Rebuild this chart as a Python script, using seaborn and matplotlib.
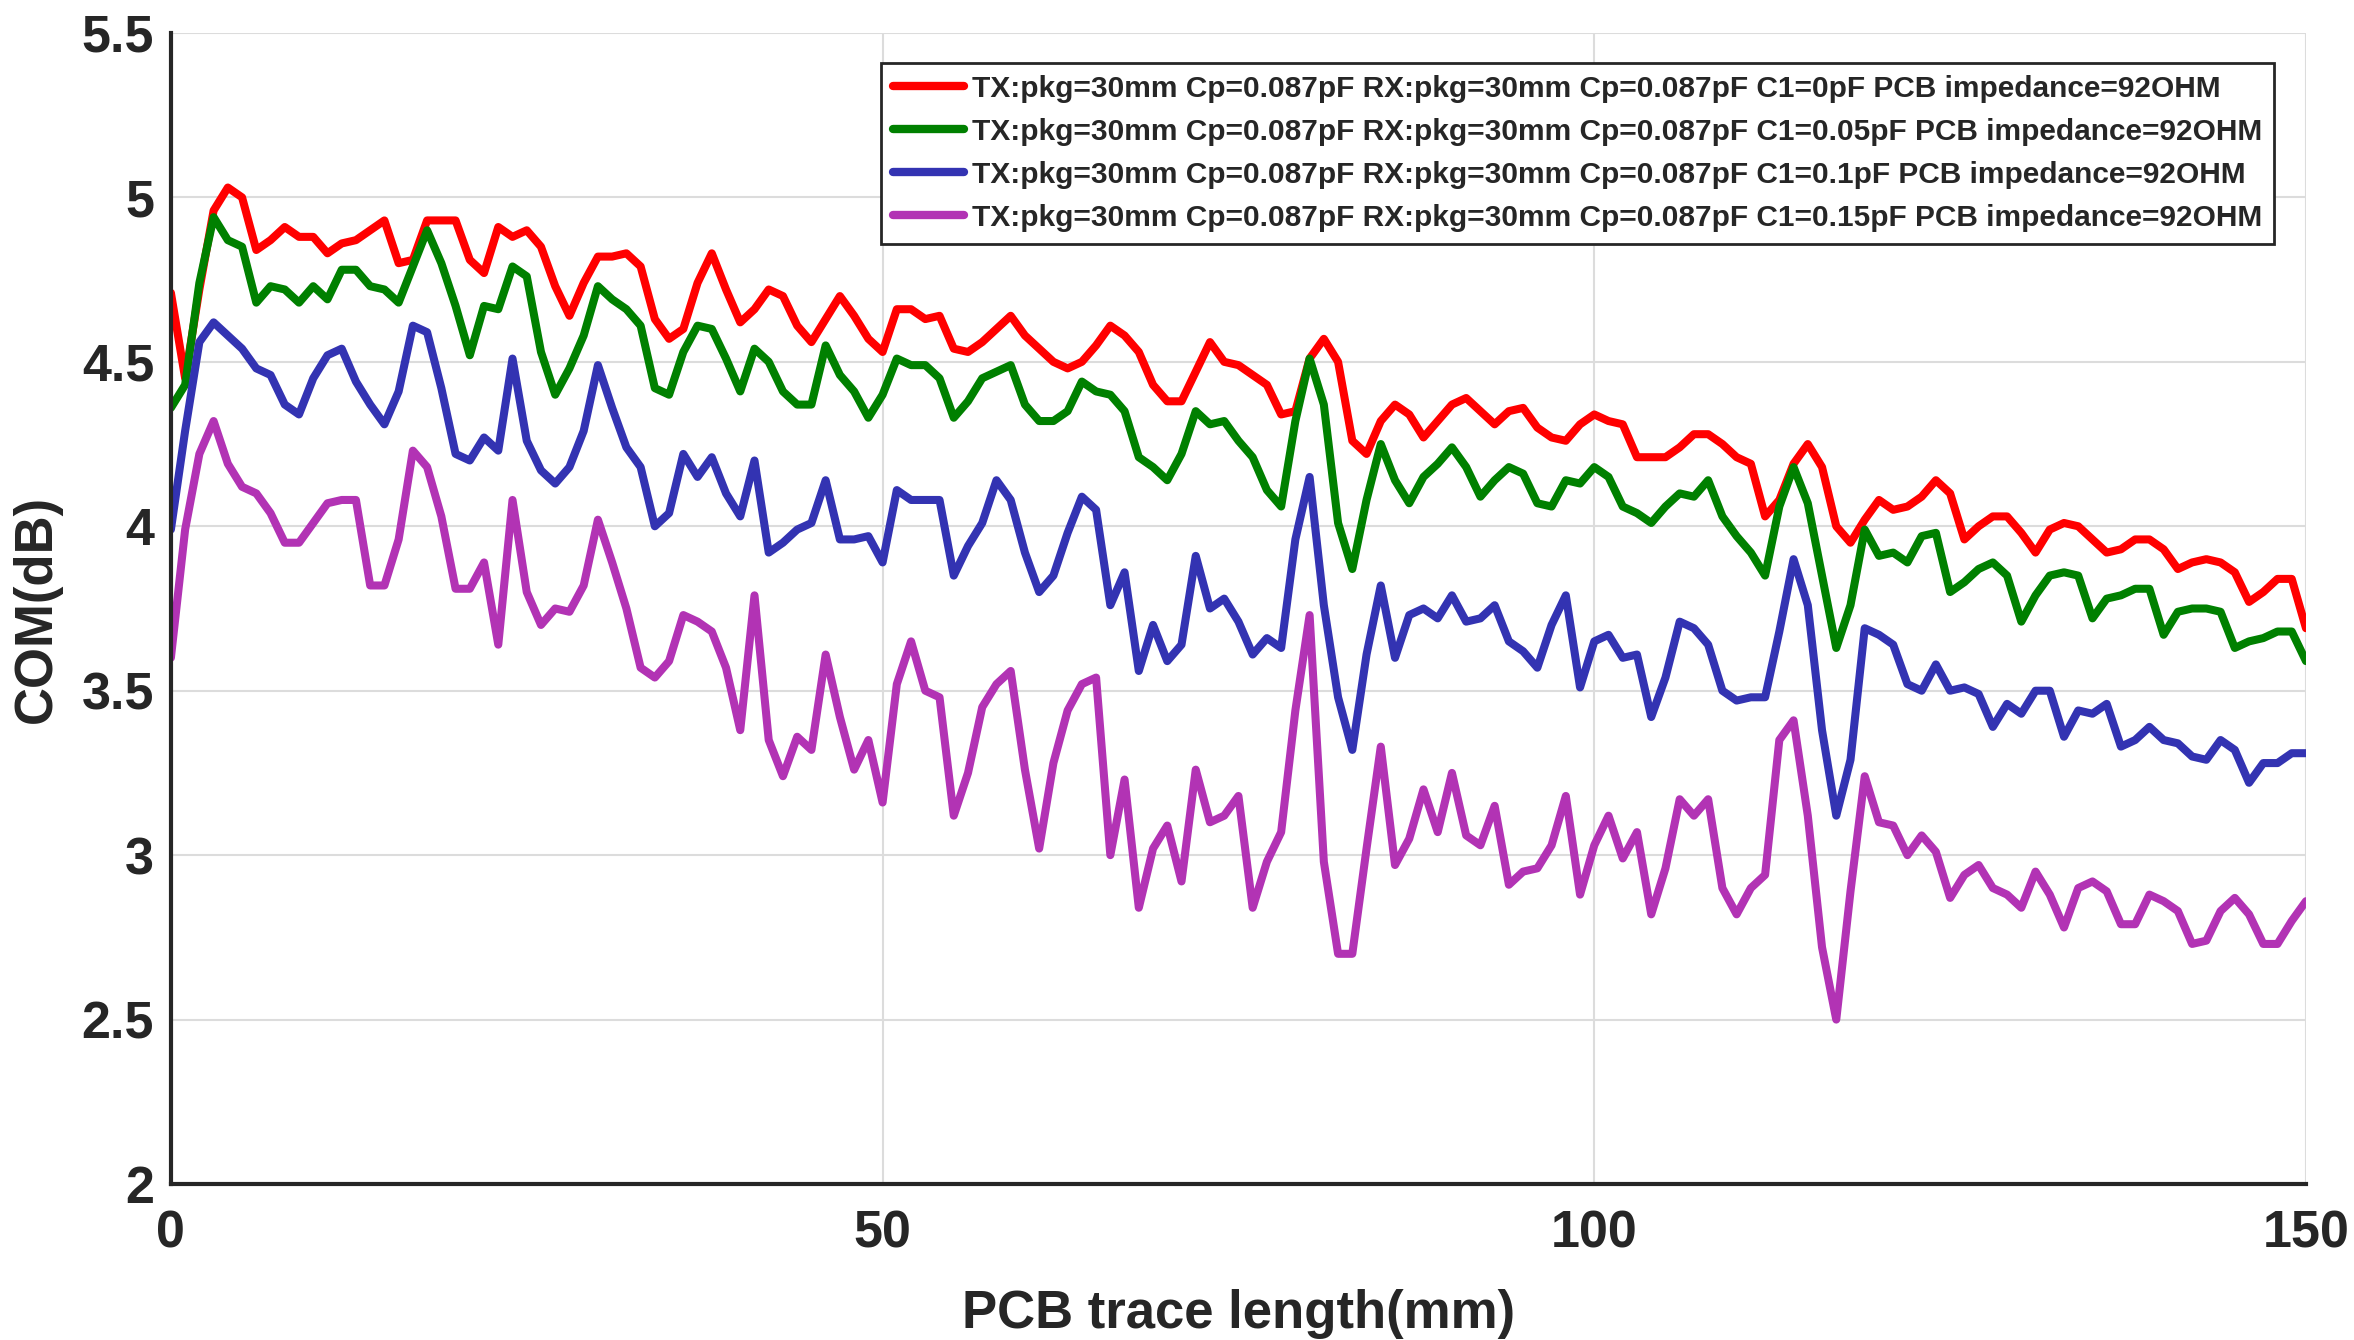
import numpy as np
import pandas as pd
import matplotlib
matplotlib.use("Agg")
import matplotlib.pyplot as plt
import seaborn as sns

# ---------------- data ----------------
trace_length_mm = list(range(0, 151))

com_c1_0 = [
    4.71, 4.45, 4.72, 4.96, 5.03, 5.00, 4.84, 4.87, 4.91, 4.88, 4.88, 4.83, 4.86, 4.87, 4.90, 4.93, 4.80, 4.81, 4.93, 4.93, 4.93, 4.81, 4.77, 4.91, 4.88, 4.90,
    4.85, 4.73, 4.64, 4.74, 4.82, 4.82, 4.83, 4.79, 4.63, 4.57, 4.60, 4.74, 4.83, 4.72, 4.62, 4.66, 4.72, 4.70, 4.61, 4.56, 4.63, 4.70, 4.64, 4.57, 4.53,
    4.66, 4.66, 4.63, 4.64, 4.54, 4.53, 4.56, 4.60, 4.64, 4.58, 4.54, 4.50, 4.48, 4.50, 4.55, 4.61, 4.58, 4.53, 4.43, 4.38, 4.38, 4.47, 4.56, 4.50, 4.49,
    4.46, 4.43, 4.34, 4.35, 4.51, 4.57, 4.50, 4.26, 4.22, 4.32, 4.37, 4.34, 4.27, 4.32, 4.37, 4.39, 4.35, 4.31, 4.35, 4.36, 4.30, 4.27, 4.26, 4.31, 4.34,
    4.32, 4.31, 4.21, 4.21, 4.21, 4.24, 4.28, 4.28, 4.25, 4.21, 4.19, 4.03, 4.08, 4.19, 4.25, 4.18, 4.00, 3.95, 4.02, 4.08, 4.05, 4.06, 4.09, 4.14, 4.10,
    3.96, 4.00, 4.03, 4.03, 3.98, 3.92, 3.99, 4.01, 4.00, 3.96, 3.92, 3.93, 3.96, 3.96, 3.93, 3.87, 3.89, 3.90, 3.89, 3.86, 3.77, 3.80, 3.84, 3.84, 3.69,
]

com_c1_005 = [
    4.36, 4.43, 4.74, 4.94, 4.87, 4.85, 4.68, 4.73, 4.72, 4.68, 4.73, 4.69, 4.78, 4.78, 4.73, 4.72, 4.68, 4.79, 4.90, 4.80, 4.67, 4.52, 4.67, 4.66, 4.79, 4.76,
    4.53, 4.40, 4.48, 4.58, 4.73, 4.69, 4.66, 4.61, 4.42, 4.40, 4.53, 4.61, 4.60, 4.51, 4.41, 4.54, 4.50, 4.41, 4.37, 4.37, 4.55, 4.46, 4.41, 4.33, 4.40,
    4.51, 4.49, 4.49, 4.45, 4.33, 4.38, 4.45, 4.47, 4.49, 4.37, 4.32, 4.32, 4.35, 4.44, 4.41, 4.40, 4.35, 4.21, 4.18, 4.14, 4.22, 4.35, 4.31, 4.32, 4.26,
    4.21, 4.11, 4.06, 4.32, 4.51, 4.37, 4.01, 3.87, 4.08, 4.25, 4.14, 4.07, 4.15, 4.19, 4.24, 4.18, 4.09, 4.14, 4.18, 4.16, 4.07, 4.06, 4.14, 4.13, 4.18,
    4.15, 4.06, 4.04, 4.01, 4.06, 4.10, 4.09, 4.14, 4.03, 3.97, 3.92, 3.85, 4.06, 4.18, 4.07, 3.85, 3.63, 3.76, 3.99, 3.91, 3.92, 3.89, 3.97, 3.98, 3.80,
    3.83, 3.87, 3.89, 3.85, 3.71, 3.79, 3.85, 3.86, 3.85, 3.72, 3.78, 3.79, 3.81, 3.81, 3.67, 3.74, 3.75, 3.75, 3.74, 3.63, 3.65, 3.66, 3.68, 3.68, 3.59,
]

com_c1_01 = [
    3.99, 4.29, 4.56, 4.62, 4.58, 4.54, 4.48, 4.46, 4.37, 4.34, 4.45, 4.52, 4.54, 4.44, 4.37, 4.31, 4.41, 4.61, 4.59, 4.42, 4.22, 4.20, 4.27, 4.23, 4.51, 4.26,
    4.17, 4.13, 4.18, 4.29, 4.49, 4.36, 4.24, 4.18, 4.00, 4.04, 4.22, 4.15, 4.21, 4.10, 4.03, 4.20, 3.92, 3.95, 3.99, 4.01, 4.14, 3.96, 3.96, 3.97, 3.89,
    4.11, 4.08, 4.08, 4.08, 3.85, 3.94, 4.01, 4.14, 4.08, 3.92, 3.80, 3.85, 3.98, 4.09, 4.05, 3.76, 3.86, 3.56, 3.70, 3.59, 3.64, 3.91, 3.75, 3.78, 3.71,
    3.61, 3.66, 3.63, 3.96, 4.15, 3.76, 3.48, 3.32, 3.61, 3.82, 3.60, 3.73, 3.75, 3.72, 3.79, 3.71, 3.72, 3.76, 3.65, 3.62, 3.57, 3.70, 3.79, 3.51, 3.65,
    3.67, 3.60, 3.61, 3.42, 3.54, 3.71, 3.69, 3.64, 3.50, 3.47, 3.48, 3.48, 3.68, 3.90, 3.76, 3.38, 3.12, 3.29, 3.69, 3.67, 3.64, 3.52, 3.50, 3.58, 3.50,
    3.51, 3.49, 3.39, 3.46, 3.43, 3.50, 3.50, 3.36, 3.44, 3.43, 3.46, 3.33, 3.35, 3.39, 3.35, 3.34, 3.30, 3.29, 3.35, 3.32, 3.22, 3.28, 3.28, 3.31, 3.31,
]

com_c1_015 = [
    3.60, 3.99, 4.22, 4.32, 4.19, 4.12, 4.10, 4.04, 3.95, 3.95, 4.01, 4.07, 4.08, 4.08, 3.82, 3.82, 3.96, 4.23, 4.18, 4.03, 3.81, 3.81, 3.89, 3.64, 4.08, 3.80,
    3.70, 3.75, 3.74, 3.82, 4.02, 3.89, 3.75, 3.57, 3.54, 3.59, 3.73, 3.71, 3.68, 3.57, 3.38, 3.79, 3.35, 3.24, 3.36, 3.32, 3.61, 3.42, 3.26, 3.35, 3.16,
    3.52, 3.65, 3.50, 3.48, 3.12, 3.25, 3.45, 3.52, 3.56, 3.26, 3.02, 3.28, 3.44, 3.52, 3.54, 3.00, 3.23, 2.84, 3.02, 3.09, 2.92, 3.26, 3.10, 3.12, 3.18,
    2.84, 2.98, 3.07, 3.44, 3.73, 2.98, 2.70, 2.70, 3.02, 3.33, 2.97, 3.05, 3.20, 3.07, 3.25, 3.06, 3.03, 3.15, 2.91, 2.95, 2.96, 3.03, 3.18, 2.88, 3.03,
    3.12, 2.99, 3.07, 2.82, 2.96, 3.17, 3.12, 3.17, 2.90, 2.82, 2.90, 2.94, 3.35, 3.41, 3.12, 2.72, 2.50, 2.89, 3.24, 3.10, 3.09, 3.00, 3.06, 3.01, 2.87,
    2.94, 2.97, 2.90, 2.88, 2.84, 2.95, 2.88, 2.78, 2.90, 2.92, 2.89, 2.79, 2.79, 2.88, 2.86, 2.83, 2.73, 2.74, 2.83, 2.87, 2.82, 2.73, 2.73, 2.80, 2.86,
]

series_labels = [
    "TX:pkg=30mm Cp=0.087pF RX:pkg=30mm Cp=0.087pF C1=0pF PCB impedance=92OHM",
    "TX:pkg=30mm Cp=0.087pF RX:pkg=30mm Cp=0.087pF C1=0.05pF PCB impedance=92OHM",
    "TX:pkg=30mm Cp=0.087pF RX:pkg=30mm Cp=0.087pF C1=0.1pF PCB impedance=92OHM",
    "TX:pkg=30mm Cp=0.087pF RX:pkg=30mm Cp=0.087pF C1=0.15pF PCB impedance=92OHM",
]
series_colors = ["#FF0000", "#008000", "#3333B2", "#B233B4"]

x_ticks = [0, 50, 100, 150]
y_ticks = [2, 2.5, 3, 3.5, 4, 4.5, 5, 5.5]
y_tick_labels = ["2", "2.5", "3", "3.5", "4", "4.5", "5", "5.5"]

# ---------------- frame ----------------
all_values = [com_c1_0, com_c1_005, com_c1_01, com_c1_015]
frames = []
for lab, vals in zip(series_labels, all_values):
    frames.append(pd.DataFrame({"x": trace_length_mm, "y": vals, "series": lab}))
df = pd.concat(frames, ignore_index=True)

sns.set_theme(style="whitegrid")
plt.rcParams["font.family"] = ["Liberation Sans", "DejaVu Sans"]
plt.rcParams["font.weight"] = "bold"

fig = plt.figure(figsize=(23.54, 13.40), dpi=100)
ax = fig.add_axes([0.0726, 0.1164, 0.9070, 0.8590])

sns.lineplot(data=df, x="x", y="y", hue="series", hue_order=series_labels,
             palette=series_colors, linewidth=5.8, ax=ax, legend=True,
             estimator=None, sort=False)

ax.set_xlim(0, 150)
ax.set_ylim(2, 5.5)
ax.set_xticks(x_ticks)
ax.set_xticklabels([str(t) for t in x_ticks])
ax.set_yticks(y_ticks)
ax.set_yticklabels(y_tick_labels)

ax.grid(True, color="#DCDCDC", linewidth=1.5)
for side in ["top", "right"]:
    ax.spines[side].set_visible(False)
for side in ["left", "bottom"]:
    ax.spines[side].set_visible(True)
    ax.spines[side].set_color("#262626")
    ax.spines[side].set_linewidth(3)

ax.tick_params(axis="both", direction="in", length=16, width=2.2,
               colors="#262626", labelsize=37.5, labelcolor="#262626")
ax.tick_params(axis="x", pad=18)
ax.tick_params(axis="y", pad=12)
for lbl in ax.get_xticklabels() + ax.get_yticklabels():
    lbl.set_fontweight("bold")

ax.set_xlabel("PCB trace length(mm)", fontsize=38, fontweight="bold",
              color="#262626", labelpad=22)
ax.set_ylabel("COM(dB)", fontsize=38, fontweight="bold",
              color="#262626", labelpad=14)

handles, labels = ax.get_legend_handles_labels()
leg = ax.legend(handles, labels, loc="upper right",
                bbox_to_anchor=(0.985, 0.974), borderaxespad=0,
                prop={"family": ["Liberation Sans", "DejaVu Sans"], "weight": "bold", "size": 21.5},
                frameon=True, fancybox=False, framealpha=1, edgecolor="#262626",
                handlelength=2.4, handletextpad=0.25, labelspacing=0.5,
                borderpad=0.4, title=None)
leg.get_frame().set_linewidth(2)
for lh in leg.get_lines():
    lh.set_linewidth(6)

fig.savefig("out.png", dpi=100, facecolor="white")
